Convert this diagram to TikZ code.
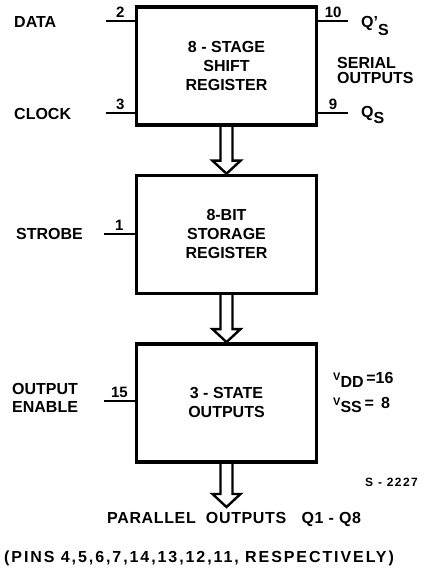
\documentclass[tikz,border=0pt]{standalone}
\usepackage{fontspec}
\setmainfont{Liberation Sans}
\usepackage{tikz}
\usetikzlibrary{positioning}

\begin{document}
\begin{tikzpicture}[x=1pt, y=-1pt,
  every node/.style={font=\fontsize{16}{19}\selectfont\bfseries, inner sep=0pt},
  block/.style={draw, line width=3.4pt, minimum width=180pt, minimum height=118pt, align=center},
  pin/.style={line width=1.5pt},
  pinno/.style={midway, above=3pt, font=\fontsize{15}{15}\selectfont\bfseries},
  flow/.style={line width=2.4pt, line join=miter}]
  \useasboundingbox (0,0) rectangle (428,569);

  % the three blocks
  \node[block] (shift) at (226.5,66) {8 - STAGE\\SHIFT\\REGISTER};
  \node[block, below=47pt of shift] (store) {8-BIT\\STORAGE\\REGISTER};
  \node[block, below=47pt of store] (tristate) {3 - STATE\\OUTPUTS};

  % pins
  \coordinate (datapin) at (106,21);
  \coordinate (clockpin) at (106,113);
  \coordinate (qsppin) at (348,21);
  \coordinate (qspin) at (348,113);
  \coordinate (strobepin) at (104,234);
  \coordinate (oepin) at (104,401);
  \draw[pin] (datapin) -- node[pinno] {2} (datapin -| shift.west);
  \draw[pin] (clockpin) -- node[pinno] {3} (clockpin -| shift.west);
  \draw[pin] (qsppin -| shift.east) -- node[pinno] {10} (qsppin);
  \draw[pin] (qspin -| shift.east) -- node[pinno] {9} (qspin);
  \draw[pin] (strobepin) -- node[pinno] {1} (strobepin -| store.west);
  \draw[pin] (oepin) -- node[pinno] {15} (oepin -| tristate.west);

  % signal names
  \node[anchor=west] (data) at (14,22) {DATA};
  \node[anchor=west] (clock) at (14,114) {CLOCK};
  \node[anchor=west] (strobe) at (16,234) {STROBE};
  \node[anchor=west, align=left, font=\fontsize{16}{18}\selectfont\bfseries] (oe) at (12,398) {OUTPUT\\ENABLE};
  \node[anchor=base west] (qsp) at (361,28) {Q'\raisebox{-8pt}{S}};
  \node[anchor=base west] (qs) at (361,118) {Q\raisebox{-6pt}{S}};
  \node[anchor=west, align=left, font=\fontsize{16}{15}\selectfont\bfseries] (serial) at (337,70) {SERIAL\\OUTPUTS};
  \node[anchor=base west] (vdd) at (333,387) {\raisebox{7pt}{\fontsize{11}{11}\selectfont V}DD\,\raisebox{4pt}{=16}};
  \node[anchor=base west] (vss) at (333,412) {\raisebox{7pt}{\fontsize{11}{11}\selectfont V}SS\,\raisebox{4pt}{= \,8}};
  \node[anchor=east, font=\fontsize{12}{12}\selectfont\bfseries\addfontfeature{LetterSpace=12}] (code) at (418,482) {S - 2227};

  % data flow arrows
  \draw[flow] ([xshift=-6]shift.south) -- ([xshift=-6,yshift=13]store.north) -- ([xshift=-14,yshift=13]store.north)
    -- (store.north) -- ([xshift=14,yshift=13]store.north) -- ([xshift=6,yshift=13]store.north) -- ([xshift=6]shift.south);
  \draw[flow] ([xshift=-6]store.south) -- ([xshift=-6,yshift=13]tristate.north) -- ([xshift=-14,yshift=13]tristate.north)
    -- (tristate.north) -- ([xshift=14,yshift=13]tristate.north) -- ([xshift=6,yshift=13]tristate.north) -- ([xshift=6]store.south);
  \coordinate (partip) at (226.5,507);
  \draw[flow] ([xshift=-6]tristate.south) -- ([xshift=-6,yshift=13]partip) -- ([xshift=-14,yshift=13]partip)
    -- (partip) -- ([xshift=14,yshift=13]partip) -- ([xshift=6,yshift=13]partip) -- ([xshift=6]tristate.south);

  \node[anchor=west, font=\fontsize{16}{19}\selectfont\bfseries\addfontfeature{LetterSpace=4}] (parallel) at (107,519) {PARALLEL\ \ OUTPUTS\ \ \ Q1 - Q8};
  \node[anchor=west, font=\fontsize{16}{19}\selectfont\bfseries\addfontfeature{LetterSpace=12}] (pins) at (4,558) {(PINS 4,5,6,7,14,13,12,11, RESPECTIVELY)};
\end{tikzpicture}
\end{document}
